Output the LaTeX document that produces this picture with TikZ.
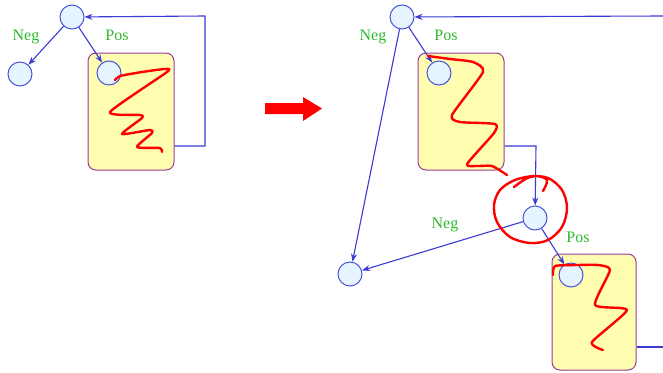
\documentclass[tikz,border=0pt]{standalone}
\usepackage{fontspec}
\setmainfont{Liberation Serif}
\usetikzlibrary{arrows.meta}
\definecolor{nodefill}{HTML}{E6F4FF}
\definecolor{nodedraw}{HTML}{4A55D8}
\definecolor{edgecol}{HTML}{3A3AD4}
\definecolor{boxfill}{HTML}{FFFDB0}
\definecolor{boxdraw}{HTML}{9A3C9A}
\definecolor{labcol}{HTML}{2DB82D}
\tikzset{
  st/.style={circle, draw=nodedraw, fill=nodefill, line width=1pt, minimum size=24pt, inner sep=0pt},
  blk/.style={rectangle, rounded corners=8pt, draw=boxdraw, fill=boxfill, line width=1pt, minimum width=86pt, minimum height=117pt, inner sep=0pt},
  ed/.style={draw=edgecol, line width=1.1pt, -{Stealth[length=8pt,width=6pt]}},
  ln/.style={draw=edgecol, line width=1.1pt},
  lab/.style={text=labcol, font=\fontsize{16}{16}\selectfont, inner sep=0pt},
  scrib/.style={draw=red, line width=2.4pt, line cap=round, line join=round}
}
\begin{document}
\begin{tikzpicture}[x=1pt,y=-1pt]
\useasboundingbox (0,0) rectangle (663,372);
% ---------- left diagram ----------
\node[blk] (lbox) at (131,111.5) {};
\node[st] (ltop) at (72,17) {};
\node[st] (lneg) at (20,74) {};
\node[st] (lpos) at (109,73) {};
\draw[ed] (ltop) -- (lneg);
\draw[ed] (ltop) -- (lpos);
\node[lab] (lnegl) at (26,37) {Neg};
\node[lab] (lposl) at (117,35) {Pos};
\coordinate (lfa) at (205,146);
\coordinate (lfb) at (205,16);
\draw[ed] (lbox.east |- lfa) -- (lfa) -- (lfb) -- (ltop);
\draw[scrib] plot[smooth, tension=0.35] coordinates {(115,80) (120,76) (142,72) (165,69) (167,72) (110,112) (140,115) (142,118) (122,134) (150,130) (152,133) (137,147) (160,148) (162,152)};
% ---------- big arrow ----------
\fill[red] (265,103) -- (303,103) -- (303,97) -- (322,108.5) -- (303,121) -- (303,114) -- (265,114) -- cycle;
% ---------- right diagram ----------
\node[blk] (rbox1) at (461,111.5) {};
\node[blk, minimum width=84pt, minimum height=116pt] (rbox2) at (594,312) {};
\node[st] (rtop) at (402,17) {};
\node[st] (rpos1) at (439,73) {};
\node[st] (rneg) at (350,274) {};
\node[st] (rmid) at (535,218) {};
\node[st] (rpos2) at (571,275) {};
\node[lab] (rnegl1) at (373,37) {Neg};
\node[lab] (rposl1) at (446,35) {Pos};
\node[lab] (rnegl2) at (445,225) {Neg};
\node[lab] (rposl2) at (578,237) {Pos};
\coordinate (rfa) at (663,16);
\draw[ed] (rfa) -- (rtop);
\draw[ed] (rtop) -- (rpos1);
\draw[ed] (rtop) -- (rneg);
\coordinate (rfb) at (536,146);
\draw[ed] (rbox1.east |- rfb) -- (rfb) -- (rmid);
\draw[ed] (rmid) -- (rneg);
\draw[ed] (rmid) -- (rpos2);
\coordinate (rfc) at (663,347);
\draw[ln] (rbox2.east |- rfc) -- (rfc);
% scribbles
\draw[scrib] plot[smooth, tension=0.35] coordinates {(428,56) (450,59) (473,62) (483,72) (452,115) (460,122) (495,124) (494,133) (467,164) (477,166) (492,166) (507,175)};
\draw[scrib] plot[smooth, tension=0.35] coordinates {(553,275) (555,266) (578,265) (598,265) (610,270) (595,305) (627,310) (592,342) (603,350)};
\draw[scrib] plot[smooth, tension=0.55] coordinates {(514,187) (530,177) (548,178) (562,190) (567,208) (562,227) (548,240) (530,243) (510,237) (497,222) (494,205) (500,190) (515,180) (535,176) (547,180) (543,191)};
\end{tikzpicture}
\end{document}
